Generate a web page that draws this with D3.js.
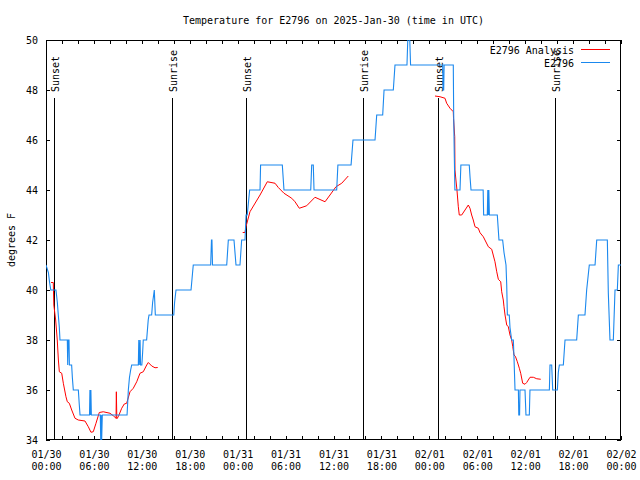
<!DOCTYPE html>
<html><head><meta charset="utf-8">
<script src="https://cdn.jsdelivr.net/npm/d3@7"></script>
<style>
body{margin:0;background:#fff}
svg{display:block}
text{font-family:"DejaVu Sans Mono",monospace;font-size:10px;fill:#000}
</style>
</head><body><svg id="c" width="640" height="480"></svg>
<script>
// ---------- DATA (hours since 2025-01-30 00:00 UTC, degrees F) ----------
const titleText = "Temperature for E2796 on 2025-Jan-30 (time in UTC)";
const yLabelText = "degrees F";
const seriesNames = ["E2796 Analysis", "E2796"];
const yTickValues = [34, 36, 38, 40, 42, 44, 46, 48, 50];

// observations (E2796)
const obs = [[0,41],[0.3,40.7],[0.45,40.3],[0.6,40],[1.25,40],[1.42,39.5],[1.54,39],[1.67,38.5],[1.75,38],
[2.67,38],[2.72,37],[2.78,38],[2.88,38],[2.93,37],[3.21,37],[3.3,36.5],[3.42,36],[4.05,36],[4.15,35.5],[4.26,35],
[5.45,35],[5.5,36],[5.56,35],[5.62,36],[5.68,35],[6.8,35],[6.85,34],[6.9,35],[6.97,34],[7.05,35],
[10.15,35],[10.31,36],[10.45,36.5],[10.6,36.8],[10.73,37],[11.56,37],[11.62,38],[11.68,37],[11.78,38],[11.84,37],
[12.0,37],[12.1,37.5],[12.18,38],[12.6,38],[12.8,38.8],[12.9,39],[13.23,39],[13.35,39.5],[13.48,39.8],[13.56,40],[13.69,39],
[16.0,39],[16.1,39.5],[16.28,40],[18.16,40],[18.3,40.5],[18.44,41],[20.62,41],[20.72,42],[20.78,42],[20.85,41],
[22.63,41],[22.83,42],[23.54,42],[23.79,41],[24.29,41],[24.5,42],[24.92,42],[25.05,43],[25.2,43],[25.5,44],
[26.8,44],[26.87,45],[29.59,45],[29.8,44],[33.15,44],[33.27,45],[33.47,45],[33.56,44],[36.4,44],[36.55,45],
[38.2,45],[38.44,46],[41.2,46],[41.41,47],[42.16,47],[42.33,48],[43.49,48],[43.7,49],[45.2,49],[45.3,50],[45.55,50],[45.65,49],
[49.67,49],[49.72,48],[49.8,48],[49.85,49],[51.0,49],[51.05,47],[51.13,45.3],[51.2,44],[51.84,44],[51.95,45],
[53.0,45],[53.1,44.5],[53.22,44],[54.74,44],[54.8,43],[55.26,43],[55.32,44],[55.38,43],[55.45,44],[55.52,43],
[56.51,43],[56.72,42],[57.18,42],[57.35,41.5],[57.6,41],[57.69,40.2],[57.77,39],[58.01,39],[58.1,38.5],[58.31,38],
[58.52,38],[58.6,37.3],[58.73,36],[59.15,36],[59.2,35],[59.3,35],[59.35,36],[59.98,36],[60.1,35],[60.52,35],[60.6,36],
[63.03,36],[63.11,37],[63.32,37],[63.45,36],[64.03,36],[64.15,36.7],[64.28,37],[64.78,37],[64.99,38],[66.45,38],
[66.66,39],[67.49,39],[67.7,40],[68.03,41],[68.75,41],[68.96,42],[70.29,42],[70.41,39.9],[70.62,38],[71.04,38],
[71.25,40],[71.54,40],[71.67,41],[72,41]];

// analysis (E2796 Analysis) - three separate runs
const analysis1 = [[0.63,40.3],[0.91,40.3],[0.98,39.4],[1.21,38.8],[1.41,38.0],[1.55,37.2],[1.67,36.73],[1.97,36.67],
[2.17,36.27],[2.5,35.73],[2.67,35.53],[2.92,35.47],[3.22,35.2],[3.63,34.87],[4.04,34.8],[4.88,34.76],[5.3,34.53],
[5.63,34.31],[5.92,34.33],[6.26,34.67],[6.67,35.1],[7.17,35.13],[8.01,35.07],[8.43,34.97],[8.77,34.87],[8.81,35.93],
[8.87,34.85],[9.05,34.93],[9.48,35.27],[9.8,35.44],[10.1,35.47],[10.52,35.93],[10.93,36.07],[11.36,36.33],[11.77,36.67],
[12.18,36.73],[12.61,37.0],[12.81,37.1],[13.24,36.96],[13.65,36.89],[13.99,36.9]];
const analysis2 = [[24.63,42.3],[24.92,42.3],[25.04,42.53],[25.54,43.13],[26.8,43.8],[27.71,44.33],[28.68,44.27],
[29.09,44.1],[29.8,43.87],[30.77,43.67],[31.18,43.53],[31.72,43.27],[32.64,43.37],[33.68,43.71],[34.94,43.53],
[35.56,43.8],[36.31,44.13],[37.03,44.27],[37.85,44.56]];
const analysis3 = [[48.71,47.76],[49.34,47.73],[49.96,47.67],[50.17,47.47],[50.59,47.27],[50.8,47.2],[51.0,47.13],
[51.03,46.87],[51.18,46.13],[51.21,44.8],[51.33,44.4],[51.46,44.0],[51.63,43.33],[51.75,43.0],[52.05,43.0],[52.47,43.2],
[52.88,43.4],[53.09,43.27],[53.3,43.0],[53.5,42.8],[53.72,42.53],[54.13,42.47],[54.35,42.29],[54.76,42.13],[55.39,41.73],
[55.81,41.63],[56.22,41.13],[56.44,40.73],[56.64,40.43],[56.94,40.33],[57.06,39.93],[57.26,39.6],[57.35,39.33],[57.48,39.0],
[57.69,38.6],[57.89,38.53],[58.1,38.2],[58.31,38.0],[58.44,37.75],[58.6,37.4],[58.77,37.35],[59.02,37.13],[59.27,36.87],
[59.44,36.67],[59.69,36.27],[59.98,36.23],[60.19,36.3],[60.61,36.51],[61.02,36.51],[61.45,36.45],[61.95,36.43]];

// sun events
const eventHours = [1.04, 15.82, 25.08, 39.74, 49.13, 63.78];
const eventLabels = ["Sunset", "Sunrise", "Sunset", "Sunrise", "Sunset", "Sunrise"];

// ---------- CHART ----------
const W = 640, H = 480;
const m = {left: 46, right: 19, top: 40, bottom: 40};
const t0 = Date.UTC(2025, 0, 30);
const hr = h => new Date(t0 + h * 3600e3);
const svg = d3.select("#c");

const x = d3.scaleUtc().domain([hr(0), hr(72)]).range([m.left, W - m.right]);
const y = d3.scaleLinear().domain([34, 50]).range([H - m.bottom, m.top]);

const colRed = "#ff0000", colBlue = "#1a88ee";
const tickLen = 4;

// axes with inward ticks
const fmtD = d3.utcFormat("%m/%d"), fmtT = d3.utcFormat("%H:%M");
const xb = svg.append("g").attr("transform", `translate(0,${H - m.bottom})`)
  .call(d3.axisBottom(x).ticks(d3.utcHour.every(2)).tickSize(-tickLen).tickPadding(0).tickFormat(() => ""));
xb.selectAll(".tick").each(function(d) {
  if (d.getUTCHours() % 6 !== 0) return;
  const t = d3.select(this).select("text").attr("y", 11);
  t.append("tspan").attr("x", 0).text(fmtD(d));
  t.append("tspan").attr("x", 0).attr("dy", 12.3).text(fmtT(d));
});
const xt = svg.append("g").attr("transform", `translate(0,${m.top})`)
  .call(d3.axisTop(x).ticks(d3.utcHour.every(2)).tickSize(-tickLen).tickFormat(() => ""));
const yl = svg.append("g").attr("transform", `translate(${m.left},0)`)
  .call(d3.axisLeft(y).tickValues(yTickValues).tickSize(-tickLen).tickPadding(4 + tickLen).tickFormat(d3.format("d")));
const yr = svg.append("g").attr("transform", `translate(${W - m.right},0)`)
  .call(d3.axisRight(y).tickValues(yTickValues).tickSize(-tickLen).tickFormat(() => ""));
svg.selectAll(".domain").remove();
svg.selectAll(".tick line").attr("stroke", "#000").attr("shape-rendering", "crispEdges");
svg.selectAll(".tick text").attr("font-family", null).attr("font-size", null).style("fill", "#000");

// border
svg.append("rect").attr("x", m.left + 0.5).attr("y", m.top + 0.5)
  .attr("width", W - m.left - m.right - 1).attr("height", H - m.top - m.bottom - 1)
  .attr("fill", "none").attr("stroke", "#000").attr("shape-rendering", "crispEdges");

// clip
svg.append("clipPath").attr("id", "pc").append("rect")
  .attr("x", m.left).attr("y", m.top).attr("width", W - m.left - m.right).attr("height", H - m.top - m.bottom);

// sun event lines
const plotH = H - m.top - m.bottom;
const lineTop = m.top + plotH * 0.145;
const labelStart = m.top + plotH * 0.13;
const ev = svg.append("g");
eventHours.forEach((h, i) => {
  const px = Math.round(x(hr(h))) + 0.5;
  ev.append("line").attr("x1", px).attr("x2", px).attr("y1", lineTop).attr("y2", H - m.bottom)
    .attr("stroke", "#000").attr("shape-rendering", "crispEdges");
});

// data lines
const line = d3.line().x(d => x(hr(d[0]))).y(d => y(d[1]));
const dg = svg.append("g").attr("clip-path", "url(#pc)");
[analysis1, analysis2, analysis3].forEach(seg => {
  dg.append("path").datum(seg).attr("d", line).attr("fill", "none").attr("stroke", colRed).attr("stroke-width", 1);
});
dg.append("path").datum(obs).attr("d", line).attr("fill", "none").attr("stroke", colBlue).attr("stroke-width", 1.1);

// legend
const lg = svg.append("g");
[[seriesNames[0], colRed, 50], [seriesNames[1], colBlue, 63]].forEach(([name, c, yy]) => {
  lg.append("text").attr("x", 574).attr("y", yy).attr("dy", "0.35em").attr("text-anchor", "end").text(name);
  lg.append("line").attr("x1", 581).attr("x2", 610).attr("y1", yy - 0.5).attr("y2", yy - 0.5)
    .attr("stroke", c).attr("shape-rendering", "crispEdges");
});

// event labels
eventHours.forEach((h, i) => {
  const px = Math.round(x(hr(h))) + 1;
  ev.append("text").attr("transform", `translate(${px},${labelStart}) rotate(-90)`)
    .attr("dy", "0.35em").attr("text-anchor", "start").text(eventLabels[i]);
});

// title and y label
svg.append("text").attr("x", (m.left + W - m.right) / 2).attr("y", 20).attr("dy", "0.35em")
  .attr("text-anchor", "middle").text(titleText);
svg.append("text").attr("transform", `translate(11,${m.top + plotH / 2}) rotate(-90)`)
  .attr("dy", "0.35em").attr("text-anchor", "middle").text(yLabelText);
</script></body></html>
